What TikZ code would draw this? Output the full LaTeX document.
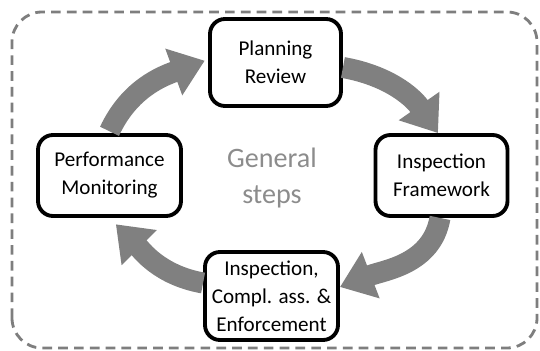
\documentclass[tikz,border=0pt]{standalone}
\usepackage{fontspec}
\setmainfont{Carlito}
\usepackage{tikz}
\usetikzlibrary{arrows.meta}
\definecolor{arrowgray}{RGB}{128,128,128}
\definecolor{labelgray}{RGB}{140,140,140}
\tikzset{
    stepbox/.style={draw, line width=2.2pt, rounded corners=0.3cm, fill=white,
        align=center, inner sep=0pt, font=\fontsize{12}{16}\selectfont},
    cyclearrow/.style={draw=arrowgray, line width=0.42cm,
        -{Triangle[length=0.66cm, width=0.95cm]}},
}

\begin{document}
\begin{tikzpicture}
        \useasboundingbox (0,0) rectangle (10.8,7.02);
        % dashed frame round the cycle
        \draw[labelgray!90!black, line width=1.6pt, dash pattern=on 5.5pt off 3.5pt, rounded corners=0.6cm]
            (0.24,0.06) rectangle (10.74,6.78);
        \node[labelgray, align=center, font=\fontsize{16}{20.5}\selectfont] (title) at (5.44,3.46) {General\\steps};
        % the four steps
        \node[stepbox, minimum width=2.62cm, minimum height=1.74cm] (plan) at (5.51,5.77) {Planning\\Review};
        \node[stepbox, minimum width=2.64cm, minimum height=1.62cm] (frame) at (8.83,3.51) {Inspection\\Framework};
        \node[stepbox, minimum width=2.86cm, minimum height=1.62cm] (perf) at (2.19,3.51) {Performance\\Monitoring};
        \node[stepbox, minimum width=2.66cm, minimum height=1.76cm] (insp) at (5.43,1.10) {Inspection,\\Compl. ass. \&\\Enforcement};
        % arrows between the steps
        \draw[cyclearrow, shorten >=2pt] ([yshift=1pt]perf.north) to[out=65, in=200] ([yshift=0.06cm]plan.west);
        \draw[cyclearrow] ([yshift=-0.1cm]plan.east) to[out=-10, in=125] ([xshift=-0.07cm]frame.north);
        \draw[cyclearrow] ([xshift=-0.03cm]frame.south) to[out=-100, in=21] ([yshift=0.18cm]insp.east);
        \draw[cyclearrow, shorten >=0.18cm] ([yshift=0.26cm]insp.west) to[out=170, in=-45] (perf.south);
    \end{tikzpicture}
\end{document}
